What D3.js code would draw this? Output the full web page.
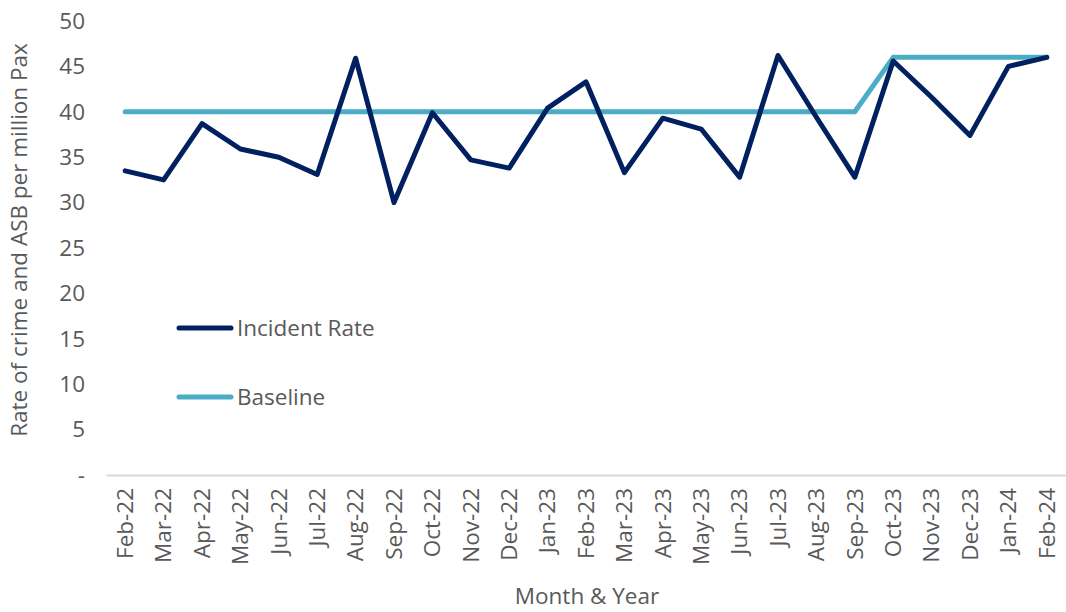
<!DOCTYPE html>
<html><head><meta charset="utf-8">
<script src="https://cdn.jsdelivr.net/npm/d3@7"></script>
<style>body{margin:0;background:#fff}text{font-family:"Open Sans",sans-serif;fill:#595959}</style>
</head><body><svg id="c" width="1066" height="612"></svg>
<script>
const months = ["Feb-22","Mar-22","Apr-22","May-22","Jun-22","Jul-22","Aug-22","Sep-22","Oct-22","Nov-22","Dec-22","Jan-23","Feb-23","Mar-23","Apr-23","May-23","Jun-23","Jul-23","Aug-23","Sep-23","Oct-23","Nov-23","Dec-23","Jan-24","Feb-24"];
const incidentRate = [33.5,32.5,38.7,35.9,35.0,33.1,45.9,30.0,39.9,34.7,33.8,40.4,43.3,33.3,39.3,38.1,32.8,46.2,39.4,32.8,45.6,41.6,37.4,45.0,46.0];
const baseline = [40,40,40,40,40,40,40,40,40,40,40,40,40,40,40,40,40,40,40,40,46,46,46,46,46];
const yTicks = [0,5,10,15,20,25,30,35,40,45,50];

const FS = 22.5;
const svg = d3.select("#c");
const m = {l:106, r:1066, t:21, b:475};
const x = d3.scaleBand().domain(months).range([m.l, m.r]);
const y = d3.scaleLinear().domain([0,50]).range([m.b, m.t]);
const cx = d => x(d) + x.bandwidth()/2;

const ya = svg.append("g").attr("transform",`translate(${m.l},0)`)
  .call(d3.axisLeft(y).tickValues(yTicks).tickSize(0).tickPadding(21).tickFormat(d => d===0 ? "-" : d));
ya.select(".domain").remove();
ya.selectAll("text").attr("font-size",FS).style("font-family","Open Sans").attr("fill","#595959");

const xa = svg.append("g").attr("transform",`translate(0,${m.b})`)
  .call(d3.axisBottom(x).tickSize(0).tickPadding(0));
xa.select(".domain").attr("stroke","#d9d9d9").attr("stroke-width",2);
xa.selectAll("text").attr("font-size",FS).style("font-family","Open Sans").attr("fill","#595959")
  .attr("text-anchor","end").attr("dy","0.35em")
  .attr("transform","translate(0,13) rotate(-90)").attr("x",0).attr("y",0);

const line = d3.line().x((d,i)=>cx(months[i])).y(d=>y(d));
svg.append("path").datum(baseline).attr("d",line).attr("fill","none")
  .attr("stroke","#4BACC6").attr("stroke-width",5).attr("stroke-linecap","round").attr("stroke-linejoin","round");
svg.append("path").datum(incidentRate).attr("d",line).attr("fill","none")
  .attr("stroke","#002060").attr("stroke-width",5).attr("stroke-linecap","round").attr("stroke-linejoin","round");

const leg = [{n:"Incident Rate",c:"#002060",y:328},{n:"Baseline",c:"#4BACC6",y:397}];
leg.forEach(l=>{
  svg.append("line").attr("x1",179).attr("x2",231).attr("y1",l.y).attr("y2",l.y)
    .attr("stroke",l.c).attr("stroke-width",5).attr("stroke-linecap","round");
  svg.append("text").attr("x",237).attr("y",l.y).attr("dy","0.35em").attr("font-size",FS).text(l.n);
});

svg.append("text").attr("transform","translate(27,240) rotate(-90)").attr("text-anchor","middle")
  .attr("font-size",FS).text("Rate of crime and ASB per million Pax");
svg.append("text").attr("x",587).attr("y",604).attr("text-anchor","middle")
  .attr("font-size",FS).text("Month & Year");
</script></body></html>
